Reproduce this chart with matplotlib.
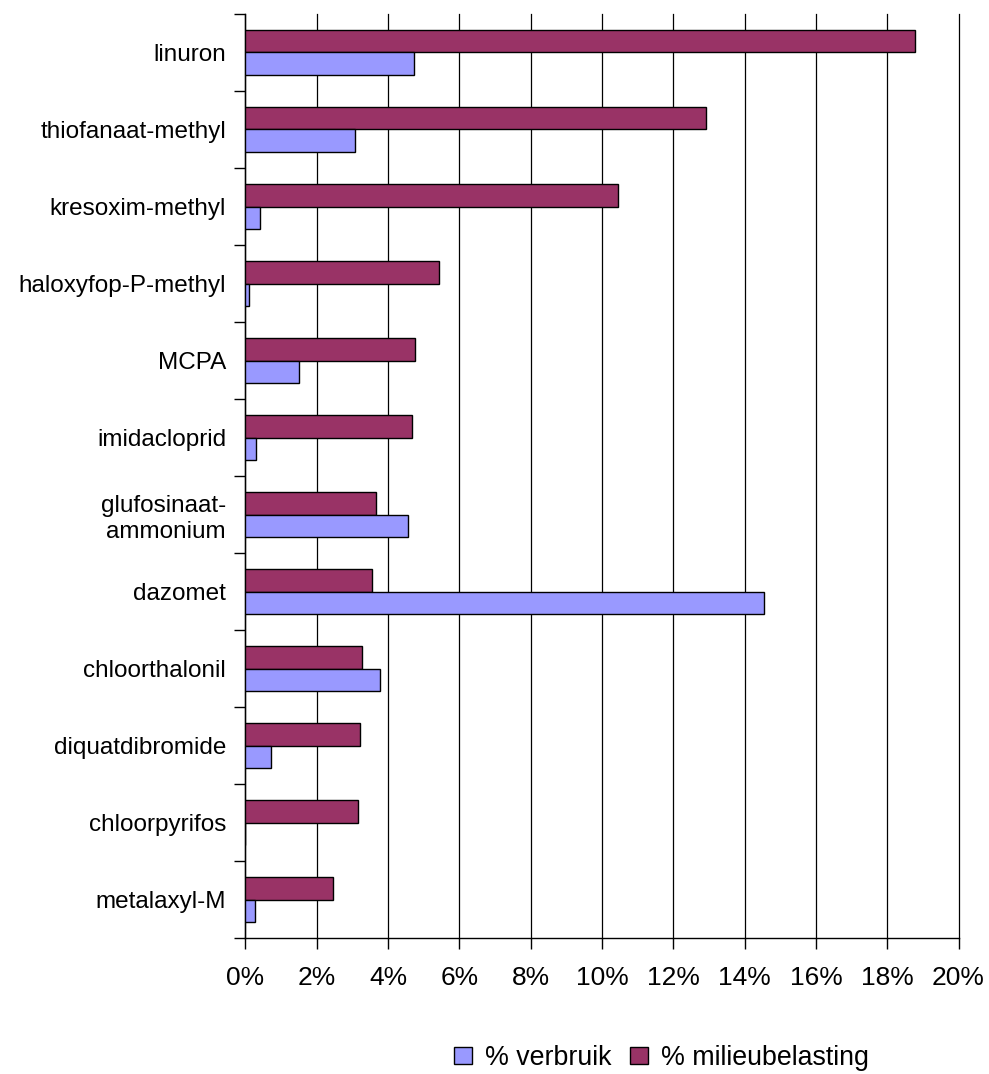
import numpy as np
import matplotlib
matplotlib.use("Agg")
import matplotlib.pyplot as plt
from matplotlib.ticker import FixedLocator, PercentFormatter

plt.rcParams["font.family"] = ["Liberation Sans", "DejaVu Sans"]

# Stoffen, van boven naar beneden
stoffen = [
    "linuron",
    "thiofanaat-methyl",
    "kresoxim-methyl",
    "haloxyfop-P-methyl",
    "MCPA",
    "imidacloprid",
    "glufosinaat-\nammonium",
    "dazomet",
    "chloorthalonil",
    "diquatdibromide",
    "chloorpyrifos",
    "metalaxyl-M",
]

# aandeel in procenten
milieubelasting = [18.79, 12.91, 10.44, 5.43, 4.75, 4.67, 3.67, 3.56, 3.26, 3.21, 3.16, 2.45]
verbruik = [4.72, 3.07, 0.41, 0.10, 1.50, 0.29, 4.57, 14.55, 3.78, 0.72, 0.0, 0.26]

kleur_verbruik = "#9999FF"
kleur_milieu = "#993366"

fig = plt.figure(figsize=(9.89, 10.74), dpi=100)
ax = fig.add_axes([0.2482, 0.1264, 0.7210, 0.8606])

y = np.arange(len(stoffen))
h = 0.29

ax.barh(y - h / 2, milieubelasting, height=h, color=kleur_milieu,
        edgecolor="black", linewidth=1.0, label="% milieubelasting", zorder=3)
ax.barh(y + h / 2, verbruik, height=h, color=kleur_verbruik,
        edgecolor="black", linewidth=1.0, label="% verbruik", zorder=3)

ax.set_xlim(0, 20)
ax.set_ylim(len(stoffen) - 0.5, -0.5)

ax.set_xticks(np.arange(0, 21, 2))
ax.xaxis.set_major_formatter(PercentFormatter(decimals=0))
ax.set_yticks(y)
ax.set_yticklabels(stoffen)
ax.yaxis.set_minor_locator(FixedLocator(np.arange(-0.5, len(stoffen), 1.0)))

ax.tick_params(axis="y", which="major", length=0, pad=14, labelsize=17.5)
ax.tick_params(axis="y", which="minor", length=8, width=1.0, direction="out")
ax.tick_params(axis="x", length=8, width=1.0, direction="out", pad=12, labelsize=19)

ax.grid(axis="x", color="black", linewidth=0.9, zorder=0)
ax.set_axisbelow(True)
# laatste rasterlijn (20%) valt op de rand, niet afknippen
for line in ax.get_xgridlines():
    line.set_clip_on(False)

for side in ["top", "right"]:
    ax.spines[side].set_visible(False)
ax.spines["left"].set_linewidth(1.0)
ax.spines["bottom"].set_linewidth(1.0)

handles, labels = ax.get_legend_handles_labels()
fig.legend(handles[::-1], labels[::-1], loc="center", bbox_to_anchor=(0.669, 0.015),
           ncol=2, frameon=False, fontsize=19.3, handlelength=0.65, handleheight=0.65,
           handletextpad=0.5, columnspacing=0.7, borderaxespad=0)

fig.savefig("out.png", dpi=100)
